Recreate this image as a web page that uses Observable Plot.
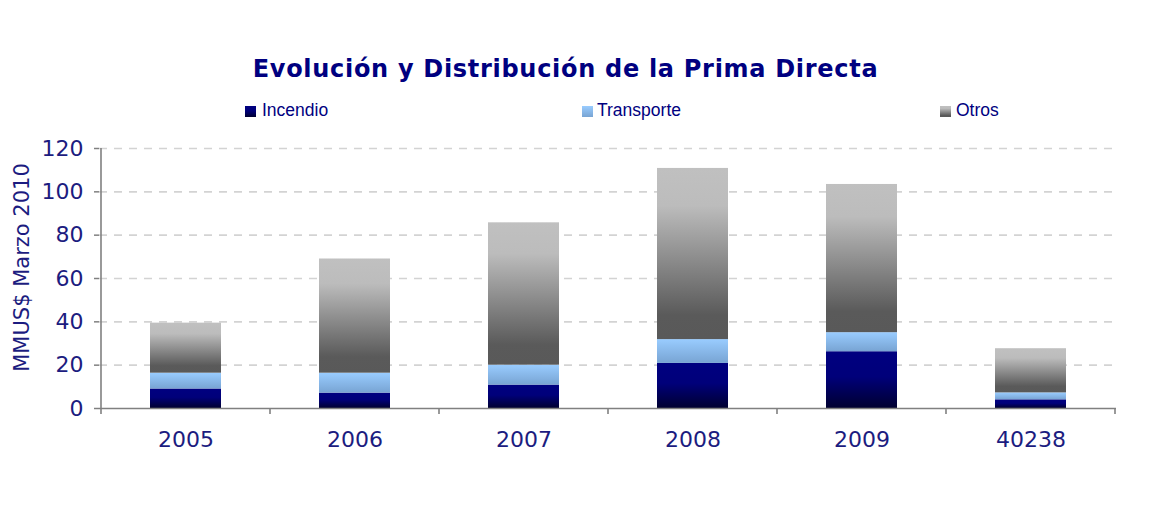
<!DOCTYPE html>
<html><head><meta charset="utf-8">
<script src="https://cdn.jsdelivr.net/npm/d3@7"></script>
<script src="https://cdn.jsdelivr.net/npm/@observablehq/plot@0.6"></script>
<style>
body{margin:0;background:#fff;}
#wrap{position:relative;width:1154px;height:527px;overflow:hidden;background:#fff;}
#title{position:absolute;left:0;width:1131px;top:57px;text-align:center;font-family:"DejaVu Sans",Verdana,sans-serif;font-weight:bold;font-size:24px;line-height:1;color:#000080;letter-spacing:0.7px;white-space:nowrap;z-index:2}
.leg{position:absolute;top:102px;font-family:"Liberation Sans",Arial,sans-serif;font-size:17.5px;line-height:1;color:#000080;white-space:nowrap;z-index:2}
.sw{position:absolute;top:106px;width:11px;height:11px;z-index:2}
#chart svg{position:absolute;top:0;left:0}
</style></head>
<body>
<div id="wrap">
  <div id="title">Evolución y Distribución de la Prima Directa</div>
  <div id="legend"></div>
  <div id="chart"></div>
</div>
<script>
const categories = ["2005", "2006", "2007", "2008", "2009", "40238"];
const series = ["Incendio", "Transporte", "Otros"];
const incendio = [9.0, 7.1, 10.8, 20.8, 26.2, 4.0];
const transporte = [7.3, 9.2, 9.2, 11.0, 8.8, 3.2];
const otros = [23.1, 52.7, 65.7, 79.0, 68.4, 20.4];
const yTicks = [0, 20, 40, 60, 80, 100, 120];
const yLabel = "MMUS$ Marzo 2010";

const gradIds = ["gInc", "gTra", "gOtr"];
const gradStops = [
  [[0, "#000080"], [0.45, "#00007a"], [1, "#000030"]],
  [[0, "#99ccff"], [1, "#78a4d3"]],
  [[0, "#c0c0c0"], [0.22, "#bcbcbc"], [0.86, "#5a5a5a"], [1, "#595959"]]
];
const cssGrad = stops => "linear-gradient(to bottom," + stops.map(([o, c]) => `${c} ${o * 100}%`).join(",") + ")";

const rows = [];
const values = [incendio, transporte, otros];
series.forEach((s, si) => categories.forEach((c, ci) => rows.push({year: c, series: s, value: values[si][ci]})));

const W = 1154, H = 527;
const chart = Plot.plot({
  width: W, height: H,
  marginTop: 148, marginBottom: 119, marginLeft: 99, marginRight: 38,
  style: {fontFamily: "'DejaVu Sans', Verdana, sans-serif", fontSize: "22px", color: "#1c1c80", background: "transparent", overflow: "visible"},
  x: {domain: categories, paddingInner: 0.58, paddingOuter: 0.29, axis: null, label: null},
  y: {domain: [0, 120], axis: null, label: null},
  color: {type: "ordinal", domain: series, range: gradIds.map(id => `url(#${id})`)},
  marks: [
    Plot.ruleY(yTicks.filter(d => d > 0), {stroke: "#d3d3d3", strokeWidth: 1.6, strokeDasharray: "8,7"}),
    Plot.barY(rows, {x: "year", y: "value", fill: "series", order: series}),
    Plot.ruleY([0], {stroke: "#808080", strokeWidth: 1.6}),
    Plot.axisY(yTicks, {tickSize: 5, tickPadding: 11, stroke: "#808080", strokeWidth: 1.5, fill: "#1c1c80", fontSize: 22, label: null}),
    Plot.axisX(categories, {tickSize: 0, tickPadding: 23, fill: "#1c1c80", fontSize: 22, label: null}),
    Plot.text([yLabel], {text: d => d, frameAnchor: "left", textAnchor: "middle", rotate: -90, dx: -71, dy: -11, lineAnchor: "bottom", fontSize: 21, fill: "#1c1c80"})
  ]
});
document.getElementById("chart").appendChild(chart);

// gradients
const svg = d3.select(chart);
const defs = svg.insert("defs", ":first-child");
gradIds.forEach((id, i) => {
  const lg = defs.append("linearGradient").attr("id", id).attr("x1", 0).attr("y1", 0).attr("x2", 0).attr("y2", 1);
  gradStops[i].forEach(([o, c]) => lg.append("stop").attr("offset", o).attr("stop-color", c));
});

// axis line on the left and category boundary ticks, from the scales
const xs = chart.scale("x"), ys = chart.scale("y");
const step = xs.step ?? (W - 99 - 38) / categories.length;
const bw = xs.bandwidth;
const gap = (step - bw) / 2;
const y0 = ys.apply(0), yTop = ys.apply(yTicks[yTicks.length - 1]);
const g = svg.append("g").attr("stroke", "#808080").attr("stroke-width", 1.6);
const leftX = xs.apply(categories[0]) - gap;
g.append("line").attr("x1", leftX).attr("x2", leftX).attr("y1", yTop).attr("y2", y0);
const bounds = categories.map(c => xs.apply(c) - gap).concat([xs.apply(categories[categories.length - 1]) + bw + gap]);
bounds.forEach(bx => g.append("line").attr("x1", bx).attr("x2", bx).attr("y1", y0).attr("y2", y0 + 6));

// legend
const legPos = [[245, 262], [582, 597], [940, 956]];
const leg = document.getElementById("legend");
series.forEach((s, i) => {
  const sw = document.createElement("div");
  sw.className = "sw"; sw.style.left = legPos[i][0] + "px"; sw.style.background = cssGrad(gradStops[i]);
  const t = document.createElement("div");
  t.className = "leg"; t.style.left = legPos[i][1] + "px"; t.textContent = s;
  leg.appendChild(sw); leg.appendChild(t);
});
</script>
</body></html>
